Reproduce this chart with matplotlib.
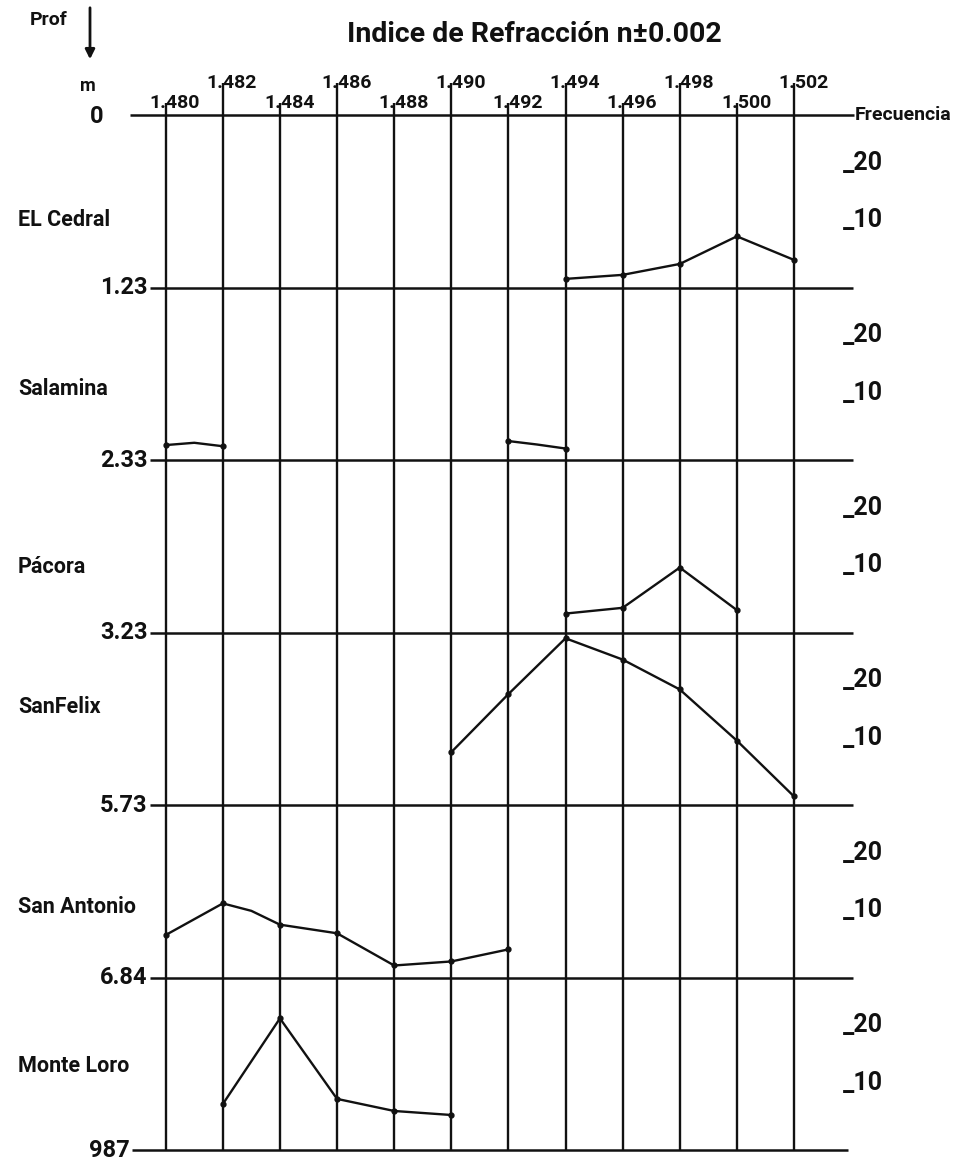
import matplotlib.pyplot as plt
import numpy as np

plt.rcParams["font.family"] = ["Roboto", "DejaVu Sans"]

# --- datos ---
indices = np.array([1.480, 1.482, 1.484, 1.486, 1.488, 1.490,
                    1.492, 1.494, 1.496, 1.498, 1.500, 1.502])
index_labels = ["1.480", "1.482", "1.484", "1.486", "1.488", "1.490",
                "1.492", "1.494", "1.496", "1.498", "1.500", "1.502"]
depth_labels = ["0", "1.23", "2.33", "3.23", "5.73", "6.84", "987"]
stations = ["EL Cedral", "Salamina", "Pácora", "SanFelix", "San Antonio", "Monte Loro"]
freq_ticks = [10, 20]

# frecuencia por estación (n, frecuencia); NaN = tramo interrumpido
cedral_n = [1.494, 1.496, 1.498, 1.500, 1.502]
cedral_f = [1.5, 2.2, 4.1, 8.9, 4.8]
salamina_n = [1.480, 1.481, 1.482, np.nan, 1.492, 1.493, 1.494]
salamina_f = [2.6, 3.0, 2.4, np.nan, 3.3, 2.7, 2.0]
pacora_n = [1.494, 1.496, 1.498, 1.500]
pacora_f = [3.3, 4.3, 11.3, 3.9]
sanfelix_n = [1.490, 1.492, 1.494, 1.496, 1.498, 1.500, 1.502]
sanfelix_f = [9.2, 19.3, 29.0, 25.3, 20.1, 11.2, 1.5]
sanantonio_n = [1.480, 1.482, 1.483, 1.484, 1.486, 1.488, 1.490, 1.492]
sanantonio_f = [7.4, 12.9, 11.6, 9.2, 7.7, 2.1, 2.8, 4.9]
monteloro_n = [1.482, 1.484, 1.486, 1.488, 1.490]
monteloro_f = [8.0, 22.9, 8.9, 6.8, 6.1]

series = [
    (cedral_n, cedral_f),
    (salamina_n, salamina_f),
    (pacora_n, pacora_f),
    (sanfelix_n, sanfelix_f),
    (sanantonio_n, sanantonio_f),
    (monteloro_n, monteloro_f),
]

# --- estilo / layout ---
INK = "#111111"
B = 30.0              # altura de cada franja (unidades de frecuencia)
PX = 0.001 / 28.56    # un pixel en unidades de n
label_pos = [0.61, 0.59, 0.62, 0.43, 0.59, 0.51]  # posición del nombre en su franja

fig = plt.figure(figsize=(9.59, 11.61), dpi=100)
ax = fig.add_axes([0, 0, 1, 1])
ax.set_xlim(1.474198, 1.507777)
ax.set_ylim(-181.9, 20.0)
ax.axis("off")

n_rows = len(stations)

# --- lineas horizontales (profundidades) ---
for k, lab in enumerate(depth_labels):
    y = -B * k
    if k == 0:
        x0, x1 = indices[0] - 36 * PX, indices[-1] + 60 * PX
    elif k == n_rows:
        x0, x1 = indices[0] - 34 * PX, indices[-1] + 54 * PX
    else:
        x0, x1 = indices[0] - 16 * PX, indices[-1] + 59 * PX
    ax.plot([x0, x1], [y, y], color=INK, lw=1.8, solid_capstyle="butt")
    if k == 0:
        ax.text(indices[0] - 62 * PX, y - 0.3, lab, ha="right", va="center",
                fontsize=17, fontweight="bold", color=INK)
    else:
        ax.text(x0 - 2 * PX, y, lab, ha="right", va="center",
                fontsize=17, fontweight="bold", color=INK)

# --- lineas verticales (indice de refraccion) ---
for j, (n, lab) in enumerate(zip(indices, index_labels)):
    y_top = 2.1 if j % 2 == 0 else 5.6
    ax.plot([n, n], [-B * n_rows, y_top], color=INK, lw=1.7, solid_capstyle="butt")
    ax.text(n - 16 * PX, y_top, lab, ha="left", va="center",
            fontsize=14, fontweight="bold", color=INK)

ax.text(indices[-1] + 61 * PX, 0, "Frecuencia", ha="left", va="center",
        fontsize=14, fontweight="bold", color=INK)

# --- escala de frecuencia y nombres de estaciones ---
for i, name in enumerate(stations):
    base = -B * (i + 1)
    for t in freq_ticks:
        ax.text(indices[-1] + 49 * PX, base + t + 0.5, f"_{t}", ha="left",
                va="baseline", fontsize=18, fontweight="bold", color=INK)
    ax.text(1.474198 + 18 * PX, -B * i - B * label_pos[i], name, ha="left",
            va="center", fontsize=15.5, fontweight="bold", color=INK)

# --- curvas de frecuencia ---
for i, (n, f) in enumerate(series):
    n = np.asarray(n, dtype=float)
    f = np.asarray(f, dtype=float)
    base = -B * (i + 1)
    ax.plot(n, base + f, color=INK, lw=1.7)
    on_grid = np.array([np.isclose(v, indices).any() for v in n])
    ax.plot(n[on_grid], base + f[on_grid], "o", color=INK, ms=3.5)

# --- titulo y ejes ---
fig.text(0.557, 0.970, "Indice de Refracción n±0.002", ha="center", va="center",
         fontsize=20.5, fontweight="bold", color=INK)
fig.text(30 / 959, 1 - 20 / 1161, "Prof", ha="left", va="center",
         fontsize=14, fontweight="bold", color=INK)
fig.text(80 / 959, 1 - 86 / 1161, "m", ha="left", va="center",
         fontsize=13, fontweight="bold", color=INK)
ax.annotate("", xy=(90 / 959, 1 - 62 / 1161), xytext=(90 / 959, 1 - 5 / 1161),
            xycoords="figure fraction", textcoords="figure fraction",
            arrowprops=dict(arrowstyle="-|>", color=INK, lw=2.0, mutation_scale=14))

fig.savefig("out.png", dpi=100, facecolor="white")
